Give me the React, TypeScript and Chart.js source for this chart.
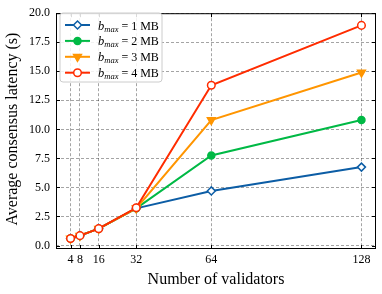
import React, { useEffect, useRef } from "react";
import { Chart, registerables } from "chart.js";

Chart.register(...registerables);

const validators = [4, 8, 16, 32, 64, 128];
const latency1MB = [0.6, 0.85, 1.45, 3.2, 4.7, 6.75];
const latency2MB = [0.6, 0.85, 1.45, 3.2, 7.75, 10.8];
const latency3MB = [0.6, 0.85, 1.45, 3.2, 10.8, 14.9];
const latency4MB = [0.6, 0.85, 1.45, 3.25, 13.8, 18.95];
const seriesSizes = ["1", "2", "3", "4"];
const xTicks = [4, 8, 16, 32, 64, 128];
const yTicks = [0, 2.5, 5, 7.5, 10, 12.5, 15, 17.5, 20];

const COLORS = ["#0C5DA5", "#00B945", "#FF9500", "#FF2C00"];
const SERIF = "'Liberation Serif', 'DejaVu Serif', serif";

const overlay = {
  id: "overlay",
  afterDatasetsDraw(chart: any) {
    const { ctx, chartArea: a, scales } = chart;
    ctx.save();
    // frame
    ctx.strokeStyle = "#000";
    ctx.lineWidth = 1;
    ctx.strokeRect(a.left + 0.5, a.top + 0.5, a.right - a.left - 1, a.bottom - a.top - 1);
    // inward ticks
    ctx.beginPath();
    for (const v of xTicks) {
      const x = Math.round(scales.x.getPixelForValue(v)) + 0.5;
      ctx.moveTo(x, a.bottom);
      ctx.lineTo(x, a.bottom - 4);
      ctx.moveTo(x, a.top);
      ctx.lineTo(x, a.top + 4);
    }
    for (const v of yTicks) {
      const y = Math.round(scales.y.getPixelForValue(v)) + 0.5;
      ctx.moveTo(a.left, y);
      ctx.lineTo(a.left + 4, y);
      ctx.moveTo(a.right, y);
      ctx.lineTo(a.right - 4, y);
    }
    ctx.stroke();

    // axis titles
    ctx.fillStyle = "#000";
    ctx.font = `16px ${SERIF}`;
    ctx.textAlign = "center";
    ctx.textBaseline = "middle";
    ctx.fillText("Number of validators", (a.left + a.right) / 2, 280);
    ctx.save();
    ctx.translate(13, (a.top + a.bottom) / 2 - 2);
    ctx.rotate(-Math.PI / 2);
    ctx.fillText("Average consensus latency (s)", 0, 0);
    ctx.restore();

    // legend
    const bx = 60, by = 13, bw = 102, bh = 69;
    ctx.beginPath();
    const r = 3;
    ctx.moveTo(bx + r, by);
    ctx.arcTo(bx + bw, by, bx + bw, by + bh, r);
    ctx.arcTo(bx + bw, by + bh, bx, by + bh, r);
    ctx.arcTo(bx, by + bh, bx, by, r);
    ctx.arcTo(bx, by, bx + bw, by, r);
    ctx.closePath();
    ctx.fillStyle = "rgba(255,255,255,0.85)";
    ctx.fill();
    ctx.strokeStyle = "#cccccc";
    ctx.lineWidth = 1;
    ctx.stroke();

    const metas = chart.data.datasets;
    for (let i = 0; i < 4; i++) {
      const y = 25 + i * 15.9;
      const ds = metas[i];
      ctx.strokeStyle = ds.borderColor;
      ctx.lineWidth = 2;
      ctx.beginPath();
      ctx.moveTo(65, y);
      ctx.lineTo(90, y);
      ctx.stroke();
      ctx.fillStyle = ds.pointBackgroundColor;
      ctx.strokeStyle = ds.borderColor;
      ctx.lineWidth = 1.5;
      drawPt(ctx, ds.pointStyle, ds.pointRadius, ds.pointRotation || 0, 77.5, y);
      // text
      ctx.fillStyle = "#000";
      ctx.textAlign = "left";
      ctx.textBaseline = "alphabetic";
      let tx = 98;
      const base = y + 4.5;
      ctx.font = `italic 12.5px ${SERIF}`;
      ctx.fillText("b", tx, base);
      tx += ctx.measureText("b").width;
      ctx.font = `italic 8.5px ${SERIF}`;
      ctx.fillText("max", tx, base + 2);
      tx += ctx.measureText("max").width;
      ctx.font = `12px ${SERIF}`;
      ctx.fillText(` = ${seriesSizes[i]} MB`, tx, base);
    }
    ctx.restore();
  },
};

function drawPt(ctx: CanvasRenderingContext2D, style: string, rad: number, rot: number, x: number, y: number) {
  ctx.beginPath();
  if (style === "rectRot") {
    ctx.moveTo(x, y - rad);
    ctx.lineTo(x + rad, y);
    ctx.lineTo(x, y + rad);
    ctx.lineTo(x - rad, y);
    ctx.closePath();
  } else if (style === "triangle") {
    const ang = (rot * Math.PI) / 180;
    for (let k = 0; k < 3; k++) {
      const t = ang - Math.PI / 2 + (k * 2 * Math.PI) / 3;
      const px = x + Math.cos(t) * rad;
      const py = y + Math.sin(t) * rad;
      if (k === 0) ctx.moveTo(px, py);
      else ctx.lineTo(px, py);
    }
    ctx.closePath();
  } else {
    ctx.arc(x, y, rad, 0, Math.PI * 2);
  }
  ctx.fill();
  ctx.stroke();
}

function mk(label: string, data: number[], color: string, style: string, fill: string, radius: number, order: number, rotation = 0) {
  return {
    label,
    data: validators.map((v, i) => ({ x: v, y: data[i] })),
    borderColor: color,
    backgroundColor: color,
    borderWidth: 2,
    pointStyle: style,
    pointRadius: radius,
    pointRotation: rotation,
    pointBackgroundColor: fill,
    pointBorderColor: color,
    pointBorderWidth: 1.5,
    order,
  };
}

export default function App() {
  const ref = useRef<HTMLCanvasElement | null>(null);
  useEffect(() => {
    if (!ref.current) return;
    const chart = new Chart(ref.current, {
      type: "line",
      data: {
        datasets: [
          mk("1 MB", latency1MB, COLORS[0], "rectRot", "#ffffff", 4, 3),
          mk("2 MB", latency2MB, COLORS[1], "circle", COLORS[1], 3.5, 2),
          mk("3 MB", latency3MB, COLORS[2], "triangle", COLORS[2], 4.5, 1, 180),
          mk("4 MB", latency4MB, COLORS[3], "circle", "#ffffff", 3.8, 0),
        ] as any,
      },
      options: {
        animation: false,
        responsive: false,
        maintainAspectRatio: false,
        layout: { padding: { top: 11, right: 6, left: 0, bottom: 0 } },
        plugins: { legend: { display: false }, tooltip: { enabled: false } },
        scales: {
          x: {
            type: "linear",
            min: -2.2,
            max: 134.2,
            afterBuildTicks: (s: any) => {
              s.ticks = xTicks.map((v) => ({ value: v }));
            },
            afterFit: (s: any) => {
              s.height = 45;
            },
            ticks: {
              autoSkip: false,
              maxRotation: 0,
              padding: 4,
              color: "#000",
              font: { family: SERIF, size: 12 },
              callback: (v: any) => String(v),
            },
            grid: { color: "rgba(0,0,0,0.45)", lineWidth: 0.8, drawTicks: false },
            border: { display: false, dash: [3, 2] },
          },
          y: {
            type: "linear",
            min: -0.3,
            max: 20,
            afterBuildTicks: (s: any) => {
              s.ticks = yTicks.map((v) => ({ value: v }));
            },
            afterFit: (s: any) => {
              s.width = 56;
            },
            ticks: {
              autoSkip: false,
              padding: 6,
              color: "#000",
              font: { family: SERIF, size: 12 },
              callback: (v: any) => Number(v).toFixed(1),
            },
            grid: { color: "rgba(0,0,0,0.45)", lineWidth: 0.8, drawTicks: false },
            border: { display: false, dash: [3, 2] },
          },
        },
      },
      plugins: [overlay],
    });
    return () => chart.destroy();
  }, []);
  return (
    <div style={{ position: "fixed", left: 0, top: 0, width: 382, height: 294, background: "#fff" }}>
      <canvas ref={ref} width={382} height={294} style={{ display: "block" }} />
    </div>
  );
}
